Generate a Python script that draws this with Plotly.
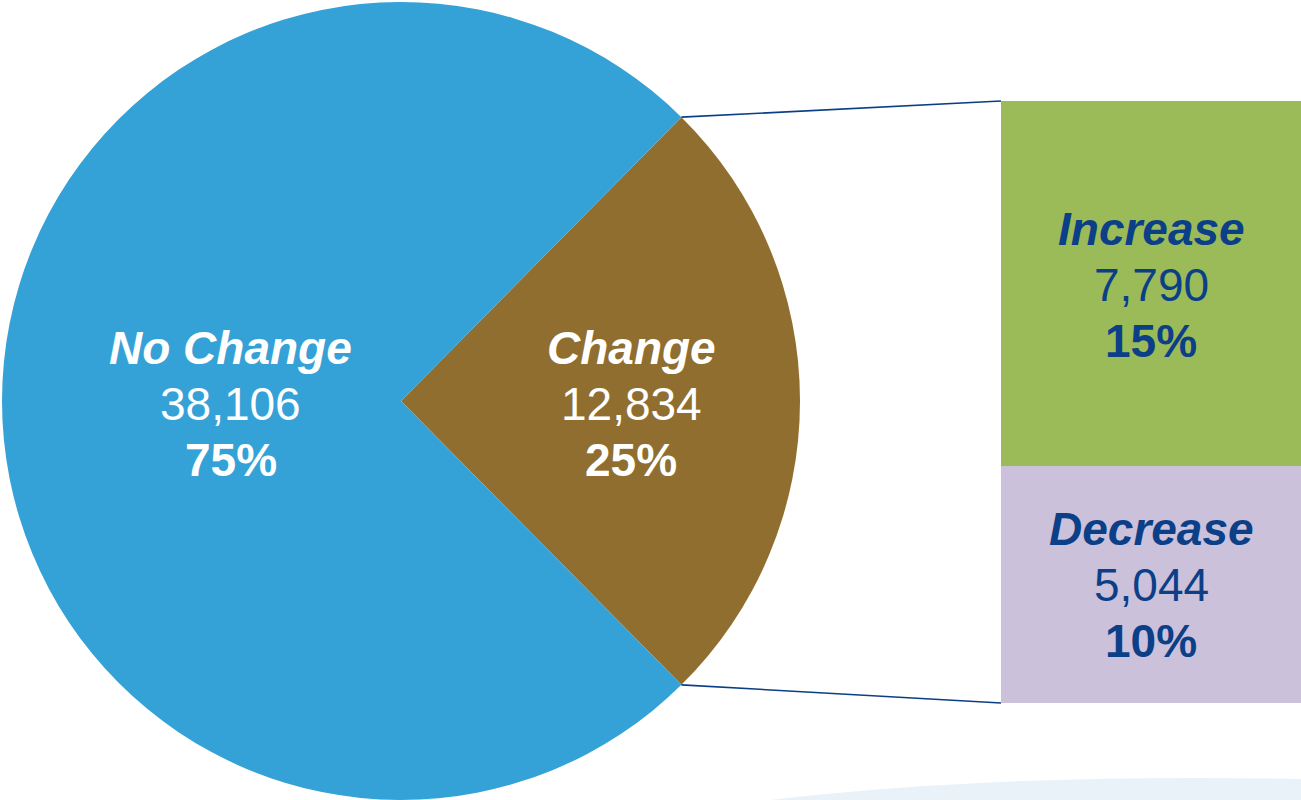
import math
import plotly.graph_objects as go

# pie data
pie_labels = ["Change", "No Change"]
pie_values = [12834, 38106]

# breakdown of the "Change" slice
bar_labels = ["Decrease", "Increase"]
bar_values = [5044, 7790]

W, H = 1301, 800
total = sum(pie_values)

blue = "#35A2D7"
brown = "#8F6E30"
green = "#9BBA58"
lilac = "#CBC1DA"
navy = "#0B3F87"
FONT = "Liberation Sans, Arial, sans-serif"


def px(x):
    return x / W


def py(y):
    return 1 - y / H


fig = go.Figure()

# change slice centred on the right hand side
fig.add_trace(go.Pie(
    labels=pie_labels, values=pie_values, sort=False,
    direction="clockwise", rotation=90 - 180 * pie_values[0] / total,
    marker=dict(colors=[brown, blue], line=dict(width=0)),
    textinfo="none", hoverinfo="label+value+percent",
    domain=dict(x=[px(1), px(801)], y=[0, 1 - 2 / H]),
    showlegend=False,
))

bar_colors = [lilac, green]
for lab, val, col in zip(bar_labels, bar_values, bar_colors):
    fig.add_trace(go.Bar(
        x=[0], y=[val], name=lab, width=1,
        marker=dict(color=col, line=dict(width=0)),
        xaxis="x2", yaxis="y2", showlegend=False, hoverinfo="name+y",
    ))

bar_top = 101
bar_bot = 703
bar_left = 1001

fig.update_layout(
    width=W, height=H,
    margin=dict(l=0, r=0, t=0, b=0),
    paper_bgcolor="white", plot_bgcolor="rgba(0,0,0,0)",
    barmode="stack", bargap=0,
    xaxis2=dict(domain=[px(bar_left), 1], range=[-0.5, 0.5], visible=False,
                fixedrange=True),
    yaxis2=dict(domain=[py(bar_bot), py(bar_top)], range=[0, sum(bar_values)],
                visible=False, fixedrange=True, anchor="x2"),
    xaxis=dict(visible=False), yaxis=dict(visible=False),
)

# connector lines from slice edges to bar corners
cx, cy, r = 401, 401, 399
half = math.radians(180 * pie_values[0] / total)
ex = cx + r * math.cos(half)
for sgn, by in [(-1, bar_top), (1, bar_bot)]:
    ey = cy + sgn * r * math.sin(half)
    fig.add_shape(type="line", xref="paper", yref="paper",
                  x0=px(ex), y0=py(ey), x1=px(bar_left), y1=py(by),
                  line=dict(color="#0A3F86", width=1.6))

# decorative swoosh bottom right
path = "M {} {} Q {} {} {} {} L {} {} L {} {} Z".format(
    px(770), py(800), px(1000), py(773), px(1301), py(779),
    1, py(800), px(770), py(800))
fig.add_shape(type="path", xref="paper", yref="paper", path=path,
              fillcolor="#EAF2F9", line=dict(width=0), layer="below")


def label_block(x, y0, name, val, color):
    pct = round(val / total * 100)
    lines = ["<b><i>%s</i></b>" % name, "{:,}".format(val), "<b>%d%%</b>" % pct]
    for i, t in enumerate(lines):
        fig.add_annotation(x=px(x), y=py(y0 + i * 56), xref="paper", yref="paper",
                           text=t, showarrow=False, xanchor="center",
                           yanchor="middle",
                           font=dict(family=FONT, size=46, color=color))


label_block(231, 348, pie_labels[1], pie_values[1], "white")
label_block(631, 348, pie_labels[0], pie_values[0], "white")
label_block(1151, 229, bar_labels[1], bar_values[1], navy)
label_block(1151, 529, bar_labels[0], bar_values[0], navy)

fig.write_html("out.html", config={"displayModeBar": False},
               post_script="document.body.style.margin='0';")
